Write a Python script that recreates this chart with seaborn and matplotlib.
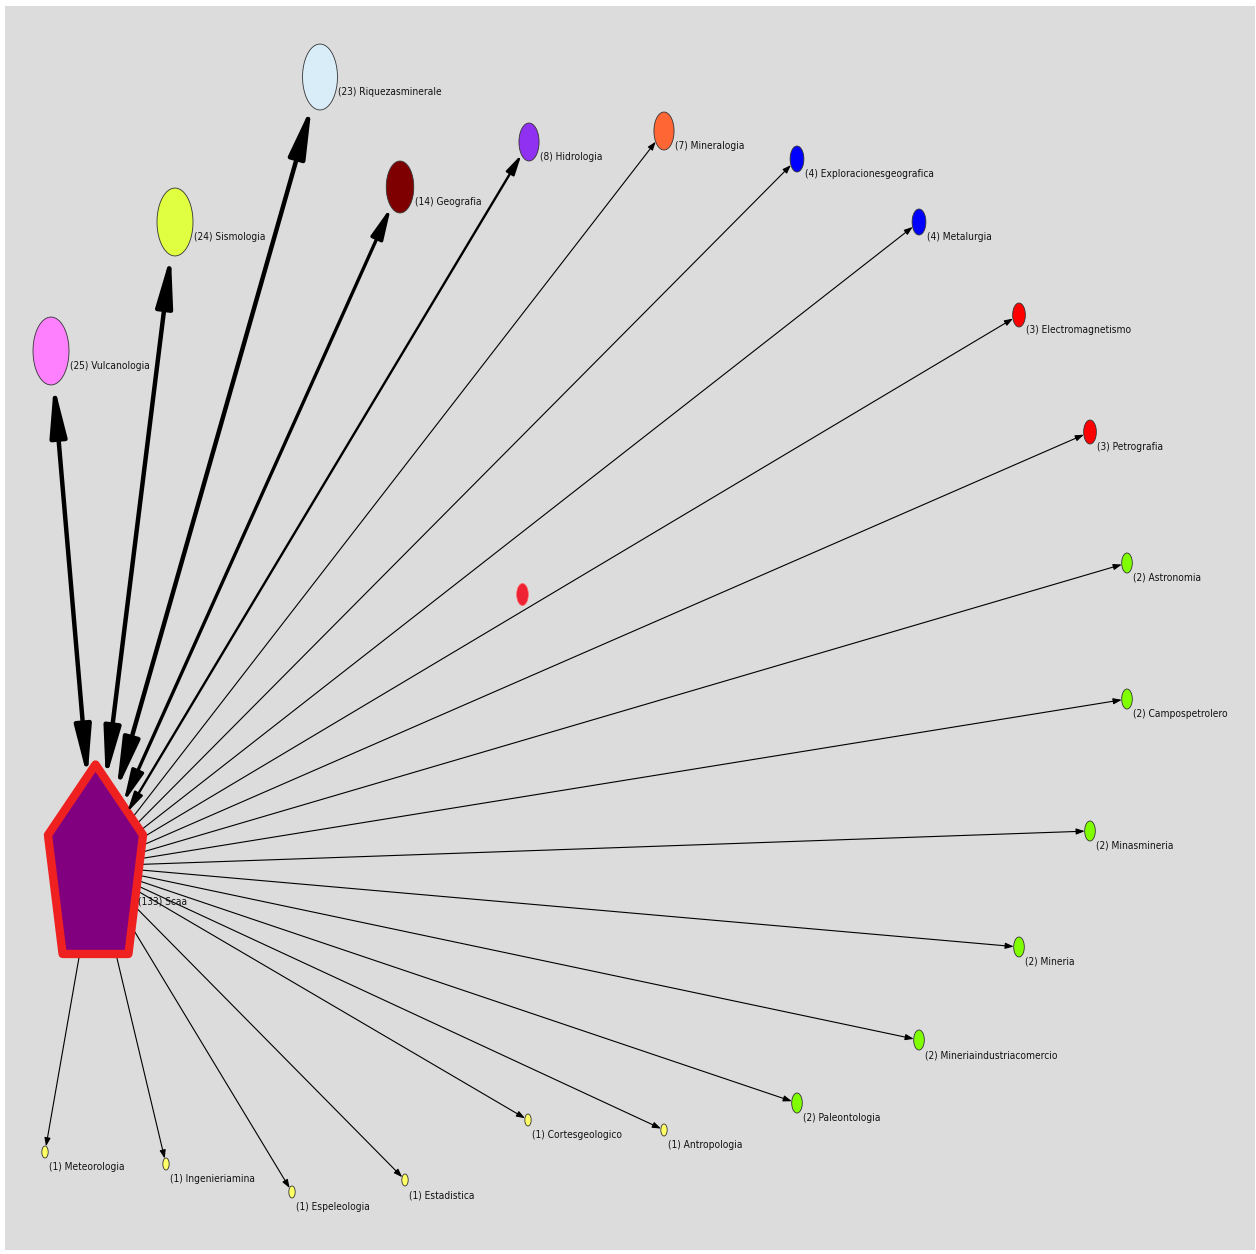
import numpy as np
import pandas as pd
import seaborn as sns
import matplotlib.pyplot as plt
from matplotlib.path import Path
from matplotlib.patches import FancyArrowPatch, ArrowStyle

# nodes linked to the hub "Scaa"
names = ["Vulcanologia", "Sismologia", "Riquezasminerale", "Geografia", "Hidrologia",
         "Mineralogia", "Exploracionesgeografica", "Metalurgia", "Electromagnetismo",
         "Petrografia", "Astronomia", "Campospetrolero", "Minasmineria", "Mineria",
         "Mineriaindustriacomercio", "Paleontologia", "Antropologia", "Cortesgeologico",
         "Estadistica", "Espeleologia", "Ingenieriamina", "Meteorologia"]
counts = [25, 24, 23, 14, 8, 7, 4, 4, 3, 3, 2, 2, 2, 2, 2, 2, 1, 1, 1, 1, 1, 1]
edge_weight = [5, 5, 5, 4, 3, 1, 1, 1, 1, 1, 1, 1, 1, 1, 1, 1, 1, 1, 1, 1, 1, 1]
both_ways = [True, True, True, True, True] + [False] * 17

hub_name = "Scaa"
hub_count = 133

# layout (pixel coords of the original drawing)
node_x = [51, 175, 320, 400, 529, 664, 797, 919, 1019, 1090, 1127, 1127, 1090, 1019,
          919, 797, 664, 528, 405, 292, 166, 45]
node_y = [351, 222, 77, 187, 142, 131, 159, 222, 315, 432, 563, 699, 831, 947,
          1040, 1103, 1130, 1120, 1180, 1192, 1164, 1152]
hub_x, hub_y = 95, 866
lone_x, lone_y = 522, 594

# style
node_colors = ["#ff80ff", "#e0ff40", "#d9edf9", "#7f0000", "#9030f0", "#ff6633",
               "#0000ff", "#0000ff", "#ff0000", "#ff0000", "#7fff00", "#7fff00",
               "#7fff00", "#7fff00", "#7fff00", "#7fff00", "#ffff66", "#ffff66",
               "#ffff66", "#ffff66", "#ffff66", "#ffff66"]
node_h = [34, 34, 33, 26, 19, 19, 13, 13, 12, 12, 10, 10, 10, 10, 10, 10, 6, 6, 6, 6, 6, 6]
aspect = 0.53
lw_map = {5: 3.2, 4: 2.4, 3: 1.7, 1: 0.8}
head_map = {5: (30, 5.0), 4: (19, 3.8), 3: (12, 2.8), 1: (5, 1.8)}

sns.set_theme(style="white")
plt.rcParams['font.family'] = ['DejaVu Sans']
plt.rcParams['font.stretch'] = 'condensed'

fig = plt.figure(figsize=(12.56, 12.54), dpi=100, facecolor="white")
ax = fig.add_axes([5 / 1256, 4 / 1254, 1250 / 1256, 1244 / 1254])
ax.set_xlim(5, 1255)
ax.set_ylim(1250, 6)
ax.set_facecolor("#dcdcdc")

px2pt = 72 / 100

# edges
for i in range(len(names)):
    dx, dy = node_x[i] - hub_x, node_y[i] - hub_y
    d = np.hypot(dx, dy)
    ux, uy = dx / d, dy / d
    ry = node_h[i]
    rx = ry * aspect
    t = 1 / np.sqrt((ux / rx) ** 2 + (uy / ry) ** 2)
    end = (node_x[i] - ux * t, node_y[i] - uy * t)
    w = edge_weight[i]
    hl, hw = head_map[w]
    if both_ways[i]:
        th = 1 / np.sqrt((ux / 40) ** 2 + (uy / 90) ** 2)
        start = (hub_x + ux * th, hub_y + uy * th)
        style = ArrowStyle("<|-|>", head_length=hl, head_width=hw)
        z = 4
    else:
        start = (hub_x, hub_y)
        style = ArrowStyle("-|>", head_length=hl, head_width=hw)
        z = 1
    ax.add_patch(FancyArrowPatch(start, end, arrowstyle=style, mutation_scale=1,
                                 lw=lw_map[w], color="black", shrinkA=0, shrinkB=0,
                                 zorder=z))

# nodes
theta = np.linspace(0, 2 * np.pi, 41)
ellipse = Path(np.column_stack([aspect * np.cos(theta), np.sin(theta)]), closed=True)
df = pd.DataFrame({"name": names, "x": node_x, "y": node_y, "h": node_h})
sizes = [(2 * h * px2pt) ** 2 for h in node_h]
sns.scatterplot(data=df, x="x", y="y", hue="name", palette=dict(zip(names, node_colors)),
                s=sizes, marker=ellipse, edgecolor="#333333", linewidth=0.6,
                legend=False, zorder=3, ax=ax)

# isolated node
ax.scatter([lone_x], [lone_y], s=(2 * 11 * px2pt) ** 2, marker=ellipse,
           color="#ee2233", edgecolor="#ff6666", linewidth=0.5, zorder=3)

# hub pentagon (slightly widened base)
ang = np.deg2rad(90 + 72 * np.arange(6))
px = 0.49 * np.cos(ang)
py = np.sin(ang)
px = np.where(py < 0, px * 1.12, px)
py = np.where(py < 0, py * 1.06, py)
pent = Path(np.column_stack([px, py]), closed=True)
ax.scatter([hub_x], [hub_y], s=(2 * 102 * px2pt) ** 2, marker=pent, color="#800080",
           edgecolor="#ee2020", linewidth=6, zorder=3)

# labels
for i in range(len(names)):
    ax.text(node_x[i] + node_h[i] * aspect + 1, node_y[i] + 15,
            f"({counts[i]}) {names[i]}", fontsize=7.3, ha="left", va="center",
            color="#111111", zorder=5)
ax.text(hub_x + 43, hub_y + 35, f"({hub_count}) {hub_name}", fontsize=7.3,
        ha="left", va="center", color="#111111", zorder=5)

ax.set_xlabel("")
ax.set_ylabel("")
ax.set_xticks([])
ax.set_yticks([])
for s in ax.spines.values():
    s.set_visible(False)

fig.savefig("out.png", dpi=100, facecolor="white")
